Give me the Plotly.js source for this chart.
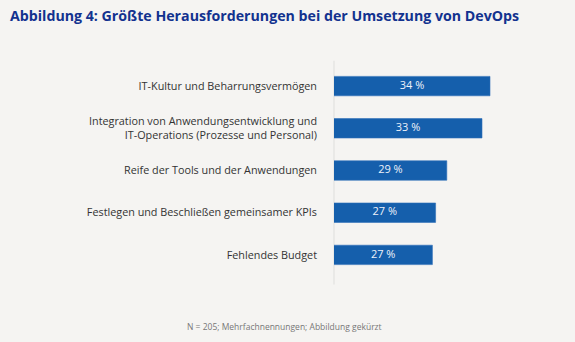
<!DOCTYPE html>
<html>
<head>
<meta charset="utf-8">
<script src="https://cdn.plot.ly/plotly-3.0.1.min.js"></script>
<style>html,body{margin:0;padding:0;background:#f5f4f2;}</style>
</head>
<body>
<div id="chart" style="width:575px;height:342px;"></div>
<script>
var categories = [
  "IT-Kultur und Beharrungsvermögen",
  "Integration von Anwendungsentwicklung und<br>IT-Operations (Prozesse und Personal)",
  "Reife der Tools und der Anwendungen",
  "Festlegen und Beschließen gemeinsamer KPIs",
  "Fehlendes Budget"
];
var values = [34.0, 33.0, 28.6, 27.2, 26.8];
var valueLabels = ["34 %", "33 %", "29 %", "27 %", "27 %"];
var axisStart = 14.5;

var bars = {
  type: 'bar',
  orientation: 'h',
  y: categories,
  x: values,
  marker: {color: '#155fac', line: {color: '#2f6fb8', width: 0.6}},
  hoverinfo: 'none'
};

// value labels centred on the visible part of each bar
var labels = {
  type: 'scatter',
  mode: 'text',
  y: categories,
  x: values.map(function (v) { return (axisStart + v) / 2; }),
  text: valueLabels,
  textposition: 'middle center',
  textfont: {family: 'Open Sans', size: 11, color: '#eef2fa'},
  hoverinfo: 'none',
  cliponaxis: false
};

var layout = {
  width: 575, height: 342,
  paper_bgcolor: '#f5f4f2',
  plot_bgcolor: '#f5f4f2',
  margin: {l: 334, r: 35, t: 65, b: 66},
  bargap: 0.54,
  showlegend: false,
  title: {
    text: '<b>Abbildung 4: Größte Herausforderungen bei der Umsetzung von DevOps</b>',
    x: 10/575, xanchor: 'left', xref: 'container',
    y: 1 - 16/342, yanchor: 'middle', yref: 'container',
    font: {family: 'Open Sans', size: 14.2, color: '#12328f'}
  },
  xaxis: {
    range: [axisStart, 40.25],
    showgrid: false, zeroline: false, showticklabels: false, showline: false, ticks: ''
  },
  yaxis: {
    autorange: 'reversed',
    showgrid: false, zeroline: false, showline: false, ticks: '',
    ticklabelstandoff: 16,
    tickfont: {family: 'Open Sans', size: 10.8, color: '#333333'}
  },
  shapes: [{
    type: 'line', xref: 'paper', yref: 'paper',
    x0: 0, x1: 0, y0: -0.04, y1: 1.02,
    line: {color: '#e2e1df', width: 1.2},
    layer: 'below'
  }],
  annotations: [{
    text: 'N = 205; Mehrfachnennungen; Abbildung gekürzt',
    xref: 'paper', yref: 'paper',
    x: (284 - 334) / 206, y: -(326 - 276) / 211,
    xanchor: 'center', yanchor: 'middle', showarrow: false,
    font: {family: 'Open Sans', size: 8.5, color: '#777777'}
  }]
};

Plotly.newPlot('chart', [bars, labels], layout, {displayModeBar: false, staticPlot: true});
</script>
</body>
</html>
